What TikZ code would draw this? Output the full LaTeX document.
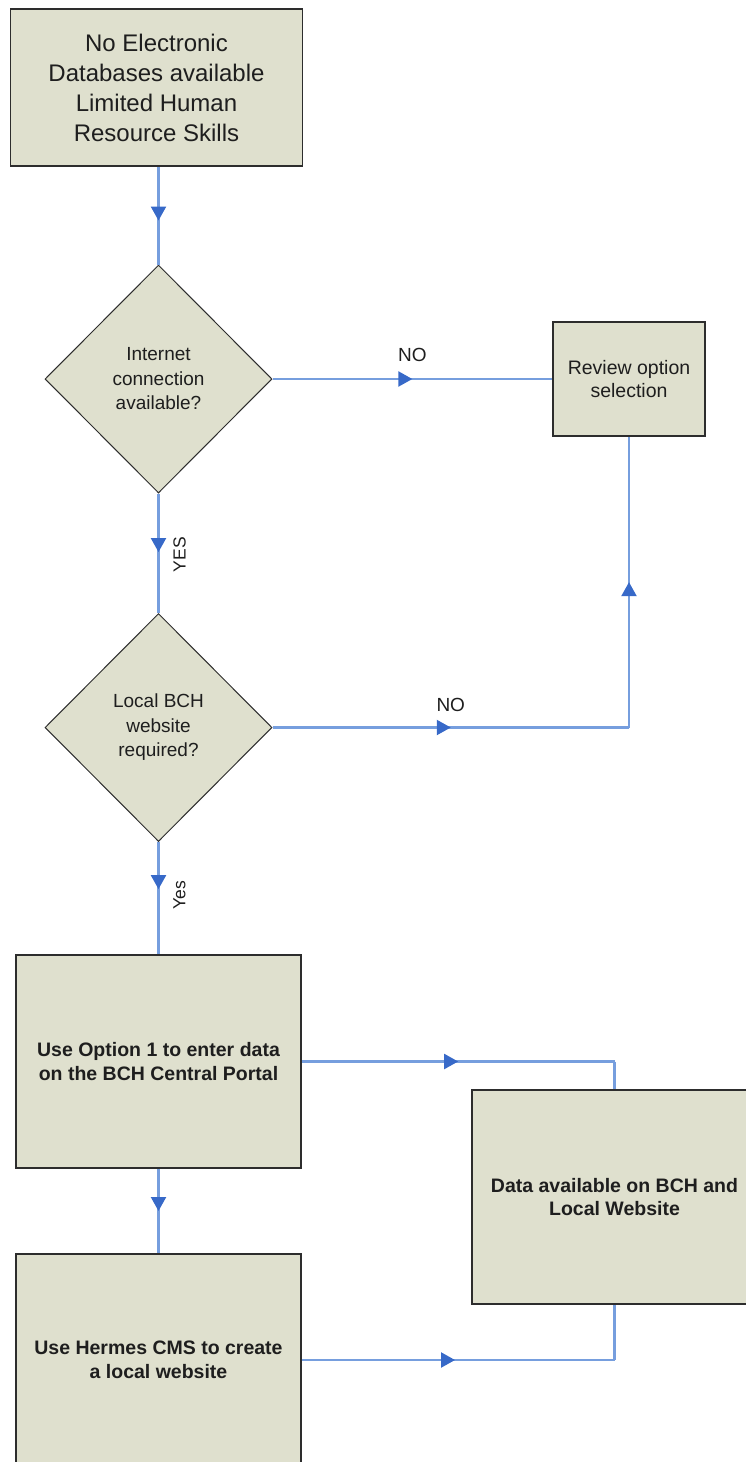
\documentclass[tikz,border=0pt]{standalone}
\usepackage{fontspec}
\setmainfont{Liberation Sans}
\usetikzlibrary{shapes.geometric, arrows.meta, decorations.markings}

\definecolor{boxfill}{RGB}{223,224,206}
\definecolor{boxline}{RGB}{45,45,45}
\definecolor{flowline}{RGB}{118,158,222}
\definecolor{flowhead}{RGB}{55,105,200}
\definecolor{inktext}{RGB}{30,30,30}

\tikzset{
  procbox/.style={draw=boxline, fill=boxfill, line width=1.6pt, rectangle,
    inner sep=0pt, align=center, text=inktext},
  decision/.style={draw=boxline, fill=boxfill, line width=1pt, diamond,
    inner sep=0pt, align=center, text=inktext,
    minimum width=227pt, minimum height=228pt,
    font=\fontsize{19}{24.5}\selectfont},
  flow/.style={draw=flowline, line width=2.2pt},
  midarrow/.style={postaction={decorate}, decoration={markings,
    mark=at position #1 with {\arrow[flowhead]{Triangle[length=14pt,width=15pt]}}}},
  midarrow/.default=0.5,
  lbl/.style={font=\fontsize{19}{21}\selectfont, inner sep=0pt, text=inktext},
  vlbl/.style={font=\fontsize{17.5}{20}\selectfont, inner sep=0pt, text=inktext, rotate=90},
}

\begin{document}
\begin{tikzpicture}[x=1pt, y=-1pt]
  \useasboundingbox (0,0) rectangle (746,1462);
  \clip (0,0) rectangle (746,1462);

  % process boxes and decisions
  \node[procbox, minimum width=292pt, minimum height=157pt,
        font=\fontsize{24}{30}\selectfont] (top) at (156.5,87.5)
        {No Electronic\\Databases available\\Limited Human\\Resource Skills};
  \node[decision] (d1) at (158.5,379) {Internet\\connection\\available?};
  \node[procbox, minimum width=152pt, minimum height=114pt,
        font=\fontsize{19.5}{23.5}\selectfont] (rev) at (629,379)
        {Review option\\selection};
  \node[decision] (d2) at (158.5,727.5) {Local BCH\\website\\required?};
  \node[procbox, minimum width=285pt, minimum height=213pt,
        font=\fontsize{19.5}{23.5}\selectfont\bfseries] (b3) at (158.5,1061.5)
        {Use Option 1 to enter data\\on the BCH Central Portal};
  \node[procbox, minimum width=285pt, minimum height=214pt,
        font=\fontsize{19.5}{23.5}\selectfont\bfseries] (b4) at (614.5,1197)
        {Data available on BCH and\\Local Website};
  \node[procbox, minimum width=285pt, minimum height=212pt,
        font=\fontsize{19.5}{23.5}\selectfont\bfseries] (b5) at (158.5,1360)
        {Use Hermes CMS to create\\a local website};

  % corner points of the elbow connectors
  \coordinate (rc) at (rev.south |- d2.east);
  \coordinate (c3) at (b4.north |- b3.east);
  \coordinate (c5) at (b4.south |- b5.east);

  % connectors
  \draw[flow, midarrow=0.55] (d1.north |- top.south) -- (d1.north);
  \draw[flow, midarrow=0.5] (d1.east) -- node[yshift=24pt, lbl] {NO} (rev.west);
  \draw[flow, midarrow=0.49] (d1.south) -- node[xshift=21pt, yshift=-1.5pt, vlbl] {YES} (d2.north);
  \draw[flow, midarrow=0.5] (d2.east) -- node[yshift=23pt, lbl] {NO} (rc);
  \draw[flow, midarrow=0.5] (rc) -- (rev.south);
  \draw[flow, midarrow=0.42] (d2.south) -- node[xshift=21pt, yshift=3pt, vlbl] {Yes} (b3.north);
  \draw[flow, midarrow=0.5] (b3.east) -- (c3);
  \draw[flow] (c3) -- (b4.north);
  \draw[flow, midarrow=0.5] (b3.south) -- (b5.north);
  \draw[flow, midarrow=0.49] (b5.east) -- (c5);
  \draw[flow] (c5) -- (b4.south);
\end{tikzpicture}
\end{document}
